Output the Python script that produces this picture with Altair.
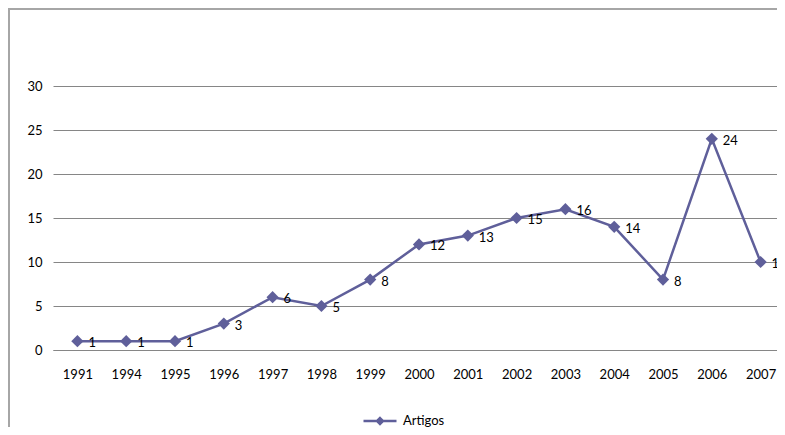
import altair as alt
import pandas as pd

years = ["1991", "1994", "1995", "1996", "1997", "1998", "1999", "2000",
         "2001", "2002", "2003", "2004", "2005", "2006", "2007"]
artigos = [1, 1, 1, 3, 6, 5, 8, 12, 13, 15, 16, 14, 8, 24, 10]
series_name = "Artigos"
y_ticks = [0, 5, 10, 15, 20, 25, 30]

df = pd.DataFrame({"ano": years, "artigos": artigos, "serie": [series_name] * len(years)})

FONT = "Lato"
LINE = "#5f5f9a"
GRID = "#868686"

x_enc = alt.X(
    "ano:O", sort=years,
    scale=alt.Scale(type="point", padding=0.5, range=[0, 732]),
    axis=alt.Axis(title=None, labelAngle=0, ticks=False, tickSize=0, labelPadding=18,
                  domainColor=GRID, domainWidth=1, labelFont=FONT, labelFontSize=13,
                  labelColor="#000000", grid=False),
)
y_enc = alt.Y(
    "artigos:Q",
    scale=alt.Scale(domain=[0, 30], nice=False),
    axis=alt.Axis(title=None, values=y_ticks, domain=False, ticks=False, tickSize=0,
                  labelPadding=11, gridColor=GRID, gridWidth=1, labelFont=FONT,
                  labelFontSize=13, labelColor="#000000"),
)

base = alt.Chart(df)

line = base.mark_line(
    strokeWidth=2.5,
    point=alt.OverlayMarkDef(shape="diamond", size=150, filled=True, color=LINE, opacity=1),
).encode(
    x=x_enc, y=y_enc,
    color=alt.Color(
        "serie:N", scale=alt.Scale(range=[LINE]),
        legend=alt.Legend(
            title=None, orient="none", legendX=309, legendY=317, padding=0,
            symbolType="M-1,0L1,0M0,-0.18L0.18,0L0,0.18L-0.18,0Z",
            symbolSize=1089, symbolStrokeWidth=2.5, symbolFillColor=LINE,
            symbolStrokeColor=LINE, labelFont=FONT, labelFontSize=13,
            labelColor="#000000", labelOffset=5,
        ),
    ),
)

labels = base.mark_text(
    align="left", baseline="middle", dx=11, dy=2, font=FONT, fontSize=13, color="#000000"
).encode(x=alt.X("ano:O", sort=years), y="artigos:Q", text="artigos:Q")

border = alt.Chart(pd.DataFrame({"k": [0]})).mark_rect(
    fill="transparent", stroke="#a6a6a6", strokeWidth=2
).encode(x=alt.value(-44), x2=alt.value(900), y=alt.value(-77), y2=alt.value(700))

chart = alt.layer(border, line, labels).properties(
    width=724, height=264,
    autosize=alt.AutoSizeParams(type="none"),
    padding={"left": 45, "top": 78, "right": 0, "bottom": 77},
).configure_view(stroke=None)

chart.save("out.html", embed_options={"renderer": "svg", "actions": False})
